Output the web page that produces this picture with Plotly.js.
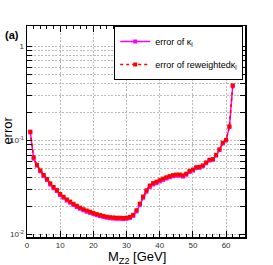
<!DOCTYPE html>
<html>
<head>
<meta charset="utf-8">
<script src="https://cdn.plot.ly/plotly-3.0.1.min.js"></script>
<style>html,body{margin:0;padding:0;background:#fff;}#chart{width:273px;height:265px;}</style>
</head>
<body>
<div id="chart"></div>
<script>
// Data
const mz2 = [1,2,3,4,5,6,7,8,9,10,11,12,13,14,15,16,17,18,19,20,21,22,23,24,25,26,27,28,29,30,31,32,33,34,35,36,37,38,39,40,41,42,43,44,45,46,47,48,49,50,51,52,53,54,55,56,57,58,59,60,61,62];
const errKappa = [0.122,0.064,0.054,0.047,0.042,0.038,0.034,0.031,0.029,0.0262,0.0246,0.0230,0.0218,0.0206,0.0196,0.0188,0.0181,0.0175,0.0170,0.0165,0.0161,0.0157,0.0154,0.0151,0.0149,0.0148,0.0147,0.0147,0.0146,0.0147,0.0150,0.0158,0.0176,0.0207,0.0246,0.0285,0.0320,0.0340,0.0352,0.0366,0.0381,0.0394,0.0406,0.0416,0.0422,0.0423,0.0413,0.0432,0.0462,0.0478,0.0508,0.0512,0.0532,0.0572,0.0612,0.0622,0.0690,0.0790,0.0930,0.1000,0.1390,0.3800];
const errReweighted = [0.124,0.066,0.055,0.048,0.043,0.039,0.035,0.032,0.0297,0.0270,0.0252,0.0236,0.0224,0.0212,0.0202,0.0193,0.0186,0.0180,0.0175,0.0170,0.0165,0.0161,0.0158,0.0155,0.0153,0.0152,0.0151,0.0151,0.0150,0.0151,0.0154,0.0162,0.0181,0.0213,0.0254,0.0295,0.0332,0.0352,0.0364,0.0378,0.0393,0.0406,0.0418,0.0428,0.0434,0.0435,0.0425,0.0444,0.0474,0.0490,0.0520,0.0524,0.0544,0.0584,0.0624,0.0634,0.0702,0.0805,0.0945,0.1015,0.1410,0.3850];
const nameKappa = "error of κ<sub>l</sub>";
const nameReweighted = "error of reweightedκ<sub>l</sub>";
const xTitle = "M<sub>Z2</sub> [GeV]";
const yTitle = "error";
const panelLabel = "<b>(a)</b>";
const xTickVals = [0,10,20,30,40,50,60];
const yTickVals = [];
const yTickText = [];
[0.01,0.1,1].forEach(function(d){
  for (let m=1; m<=9; m++){
    const v = +(m*d).toPrecision(3);
    if (v > 1.6) continue;
    yTickVals.push(v);
    yTickText.push(m===1 ? (d===0.01 ? "10<sup>-2</sup>" : d===0.1 ? "10<sup>-1</sup>" : "1") : "");
  }
});

const traces = [
  {x: mz2, y: errKappa, name: nameKappa, type: 'scatter', mode: 'lines+markers',
   legendgroup: 'a',
   line: {color: '#ff00ff', width: 1.5}, marker: {color: '#ff00ff', symbol: 'square', size: 4}},
  {x: mz2, y: errReweighted, name: nameReweighted, type: 'scatter', mode: 'lines+markers',
   legendgroup: 'b',
   line: {color: '#ff0000', width: 1.5, dash: 'dot'}, marker: {color: '#ff0000', symbol: 'square', size: 4}}
];

const layout = {
  width: 273, height: 265,
  margin: {l: 27, r: 28, t: 26, b: 28},
  paper_bgcolor: '#fff', plot_bgcolor: '#fff',
  font: {family: 'Liberation Sans, Arial, sans-serif', color: '#000'},
  showlegend: true,
  legend: {x: 0.4, y: 1, xanchor: 'left', yanchor: 'top', bgcolor: '#fff',
           bordercolor: '#000', borderwidth: 1, font: {size: 9}, tracegroupgap: 4,
           itemwidth: 30},
  xaxis: {
    range: [0, 65.7], tickvals: xTickVals, ticks: 'inside', ticklen: 6, tickwidth: 1,
    tickcolor: '#000', mirror: 'ticks', showline: true, linecolor: '#000', linewidth: 1.5,
    tickfont: {size: 8, color: '#333'}, showgrid: true, gridcolor: '#aaa', griddash: '2px,1.5px', gridwidth: 0.8,
    zeroline: false,
    minor: {dtick: 2, ticks: 'inside', ticklen: 3, tickcolor: '#000', showgrid: false}
  },
  yaxis: {
    type: 'log', range: [-2.026, 0.216], tickvals: yTickVals, ticktext: yTickText,
    ticks: 'inside', ticklen: 5, tickwidth: 1, tickcolor: '#000', mirror: 'ticks',
    showline: true, linecolor: '#000', linewidth: 1.5,
    tickfont: {size: 8, color: '#333'}, showgrid: true, gridcolor: '#aaa', griddash: '2px,1.5px', gridwidth: 0.8,
    zeroline: false
  },
  annotations: [
    {text: panelLabel, xref: 'paper', yref: 'paper', x: -0.11, y: 0.955, xanchor: 'left', yanchor: 'middle',
     showarrow: false, font: {size: 11, color: '#000'}},
    {text: yTitle, xref: 'paper', yref: 'paper', x: -0.09, y: 0.506, xanchor: 'center', yanchor: 'middle',
     textangle: -90, showarrow: false, font: {size: 13, color: '#000'}},
    {text: xTitle, xref: 'paper', yref: 'paper', x: 0.505, y: -0.096, xanchor: 'center', yanchor: 'middle',
     showarrow: false, font: {size: 13, color: '#000'}}
  ]
};

Plotly.newPlot('chart', traces, layout, {displayModeBar: false, staticPlot: true});
</script>
</body>
</html>
